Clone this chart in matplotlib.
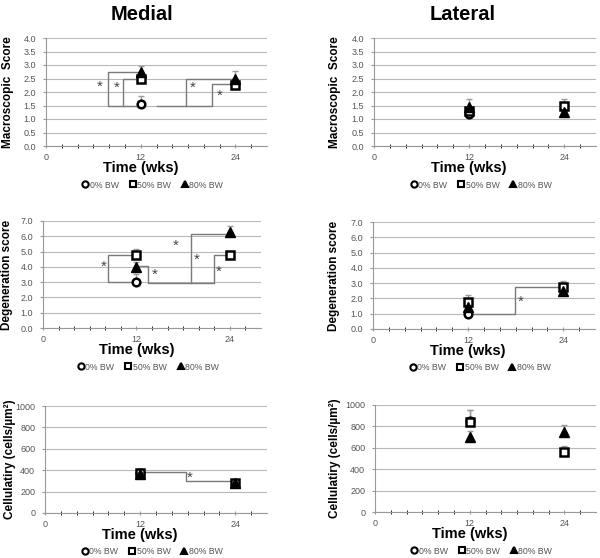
import matplotlib
matplotlib.use('Agg')
import matplotlib.pyplot as plt
from matplotlib.lines import Line2D

plt.rcParams['font.family'] = ['Liberation Sans', 'DejaVu Sans']

weeks = [12, 24]
groups = ['0% BW', '50% BW', '80% BW']

# medial macroscopic score (0% BW only at 12 wks)
med_macro = {'0% BW': [1.55], '50% BW': [2.5, 2.27], '80% BW': [2.75, 2.48]}
med_macro_err = {'0% BW': [0.3], '50% BW': [0.15, 0.2], '80% BW': [0.2, 0.3]}
lat_macro = {'0% BW': [1.2], '50% BW': [1.3, 1.5], '80% BW': [1.45, 1.25]}
lat_macro_err = {'0% BW': [0.2], '50% BW': [0.2, 0.25], '80% BW': [0.3, 0.1]}

# degeneration score
med_degen = {'0% BW': [3.0], '50% BW': [4.75, 4.75], '80% BW': [4.0, 6.25]}
med_degen_err = {'0% BW': [0.55], '50% BW': [0.45, 0.2], '80% BW': [0.3, 0.45]}
lat_degen = {'0% BW': [1.0], '50% BW': [1.75, 2.75], '80% BW': [1.45, 2.5]}
lat_degen_err = {'0% BW': [0.3], '50% BW': [0.45, 0.4], '80% BW': [0.3, 0.2]}

# cellularity
med_cell = {'0% BW': [370], '50% BW': [375, 285], '80% BW': [360, 285]}
med_cell_err = {'0% BW': [20], '50% BW': [20, 15], '80% BW': [20, 15]}
lat_cell = {'0% BW': [850], '50% BW': [845, 565], '80% BW': [700, 750]}
lat_cell_err = {'0% BW': [100], '50% BW': [110, 50], '80% BW': [60, 60]}

# significance brackets: (x path, y path) and asterisk positions
med_macro_brackets = [([12, 7.8, 7.8, 12], [1.5, 1.5, 2.75, 2.75]),
                      ([9.7, 9.7, 12], [1.5, 2.5, 2.5]),
                      ([14, 17.7, 17.7, 24], [1.5, 1.5, 2.5, 2.5]),
                      ([17.7, 21, 21, 24], [1.5, 1.5, 2.3, 2.3])]
med_macro_stars = [(6.8, 2.2), (9.0, 2.15), (18.6, 2.15), (22.0, 1.85)]
med_degen_brackets = [([12, 8.4, 8.4, 12], [3.0, 3.0, 4.8, 4.8]),
                      ([12, 13.5, 13.5, 22, 22, 24], [4.05, 4.05, 2.95, 2.95, 4.8, 4.8]),
                      ([19.0, 19.0, 24], [2.95, 6.15, 6.15])]
med_degen_stars = [(7.8, 4.0), (14.3, 3.5), (17.1, 5.35), (19.8, 4.45), (22.6, 3.7)]
lat_degen_brackets = [([12.6, 17.9, 17.9, 24], [1.0, 1.0, 2.72, 2.72])]
lat_degen_stars = [(18.6, 1.8)]
med_cell_brackets = [([12, 17.8, 17.8, 24], [385, 385, 295, 295])]
med_cell_stars = [(18.3, 330)]

styles = {'0% BW': dict(marker='o', mfc='white', mec='black', ms=5.5, mew=1.8),
          '50% BW': dict(marker='s', mfc='white', mec='black', ms=5.5, mew=1.8),
          '80% BW': dict(marker='^', mfc='black', mec='black', ms=6.5, mew=1)}

W, H = 600, 558
fig = plt.figure(figsize=(W / 100, H / 100), dpi=100)


def panel(box, vals, errs, ylim, yticks, yfmt, ylabel, ylab_x,
          brackets=(), stars=()):
    l, t, r, b = box
    ax = fig.add_axes([l / W, 1 - b / H, (r - l) / W, (b - t) / H])
    for g in groups:
        v = vals[g]
        x = weeks[:len(v)]
        ax.errorbar(x, v, yerr=[[0] * len(v), errs[g]], fmt='none',
                    ecolor='#9a9a9a', elinewidth=1, capsize=2, zorder=2)
        ax.plot(x, v, linestyle='none', zorder=4, **styles[g])
    for xs, ys in brackets:
        ax.plot(xs, ys, color='#7a7a7a', lw=1, zorder=3)
    for sx, sy in stars:
        ax.text(sx, sy, '*', ha='center', va='center', fontsize=11,
                color='#444444')
    ax.set_xlim(0, 28)
    ax.set_ylim(*ylim)
    ax.set_xticks([0, 12, 24])
    ax.set_xticks(range(2, 28, 2), minor=True)
    ax.set_yticks(yticks)
    ax.set_yticklabels([yfmt.format(y) for y in yticks])
    ax.tick_params(axis='both', labelsize=6.5, labelcolor='#555555',
                   color='#999999', length=2)
    ax.tick_params(axis='x', which='both', direction='inout', length=3)
    ax.tick_params(axis='y', pad=5)
    ax.grid(axis='y', color='#b8b8b8', lw=0.8)
    ax.set_axisbelow(True)
    for s in ['top', 'right']:
        ax.spines[s].set_visible(False)
    for s in ['left', 'bottom']:
        ax.spines[s].set_color('#999999')
    ax.set_ylabel(ylabel, fontsize=8.5, fontweight='bold', va='center')
    ax.yaxis.set_label_coords((ylab_x - l) / (r - l), 0.5)
    ax.set_xlabel('Time (wks)', fontsize=10.5, fontweight='bold', va='center')
    ax.xaxis.set_label_coords(12 / 28, -22 / (b - t))
    handles = [Line2D([], [], linestyle='none', **dict(styles[g], ms=4.5, mew=1.5))
               for g in groups]
    ax.legend(handles, groups, loc='center', ncol=3, frameon=False,
              fontsize=6.3, labelcolor='#555555', handletextpad=0.0,
              columnspacing=1.1, handlelength=1.0,
              bbox_to_anchor=(0.48, -39 / (b - t)))
    return ax


panel((46, 38, 267, 146), med_macro, med_macro_err, (0, 4), [0, .5, 1, 1.5, 2, 2.5, 3, 3.5, 4],
      '{:.1f}', 'Macroscopic  Score', 8, med_macro_brackets, med_macro_stars)
panel((374, 38, 596, 146), lat_macro, lat_macro_err, (0, 4), [0, .5, 1, 1.5, 2, 2.5, 3, 3.5, 4],
      '{:.1f}', 'Macroscopic  Score', 335)
panel((43, 221, 261, 328), med_degen, med_degen_err, (0, 7), range(8),
      '{:.1f}', 'Degeneration score', 7, med_degen_brackets, med_degen_stars)
panel((373, 222, 595, 329), lat_degen, lat_degen_err, (0, 7), range(8),
      '{:.1f}', 'Degeneration score', 334, lat_degen_brackets, lat_degen_stars)
panel((45, 406, 267, 513), med_cell, med_cell_err, (0, 1000), range(0, 1001, 200),
      '{:d}', 'Cellulatiry (cells/µm²)', 10, med_cell_brackets, med_cell_stars)
panel((375, 405, 596, 512), lat_cell, lat_cell_err, (0, 1000), range(0, 1001, 200),
      '{:d}', 'Cellulatiry (cells/µm²)', 335)

fig.text(142 / W, 1 - 14 / H, 'Medial', ha='center', va='center',
         fontsize=14.5, fontweight='bold')
fig.text(463 / W, 1 - 14 / H, 'Lateral', ha='center', va='center',
         fontsize=14.5, fontweight='bold')

fig.savefig('out.png', dpi=100)
